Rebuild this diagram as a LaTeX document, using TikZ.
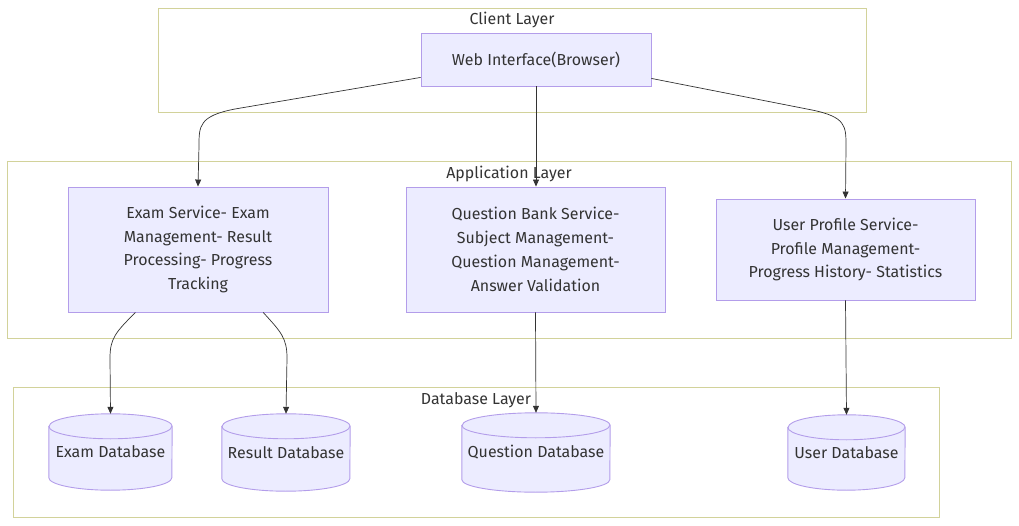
\documentclass[tikz,border=0pt]{standalone}
\usepackage{fontspec}
\setmainfont{Fira Sans}
\usetikzlibrary{arrows.meta,positioning,calc}
\definecolor{NodeFill}{HTML}{ECECFF}
\definecolor{NodeLine}{HTML}{B39DEA}
\definecolor{LayerLine}{HTML}{D2D29A}
\definecolor{EdgeInk}{HTML}{333333}
\pgfdeclarelayer{background}
\pgfsetlayers{background,main}

\begin{document}
\begin{tikzpicture}[x=1bp, y=-1bp,
  every node/.style={text=EdgeInk, font=\fontsize{16}{24}\selectfont},
  layer/.style={draw=LayerLine, line width=0.9bp, inner sep=0},
  layerlabel/.style={inner sep=2bp},
  service/.style={draw=NodeLine, fill=NodeFill, line width=0.9bp,
                  align=center, inner sep=0},
  database/.style={inner sep=0},
  dbshape/.style={draw=NodeLine, fill=NodeFill, line width=0.9bp},
  link/.style={-{Triangle[length=7bp,width=6bp]}, draw=EdgeInk, line width=0.7bp}
]
\useasboundingbox (0,0) rectangle (1019,526);
% layers
\node[layer, minimum width=708bp, minimum height=104bp] (client) at (512,60) {};
\node[layer, minimum width=1004bp, minimum height=177bp] (app) at (509,249.5) {};
\node[layer, minimum width=926bp, minimum height=130bp] (data) at (476,452) {};
\node[layerlabel, below=2.5bp of client.north] (clientlabel) {Client Layer};
\node[layerlabel, below=3.5bp of app.north] (applabel) {Application Layer};
\node[layerlabel, below=4bp of data.north] (datalabel) {Database Layer};
% services
\node[service, minimum width=230bp, minimum height=53bp] (web) at (536,59.5)
  {Web Interface(Browser)};
\node[service, minimum width=260bp, minimum height=125bp] (exam) at (198,249.5)
  {Exam Service- Exam\\Management- Result\\Processing- Progress\\Tracking};
\node[service, minimum width=259bp, minimum height=125bp] (question) at (535.5,249.5)
  {Question Bank Service-\\Subject Management-\\Question Management-\\Answer Validation};
\node[service, minimum width=259bp, minimum height=101bp] (user) at (845.5,249.5)
  {User Profile Service-\\Profile Management-\\Progress History- Statistics};
% databases
\node[database, minimum width=123bp, minimum height=76bp] (examdb) at (110.5,452) {Exam Database};
\node[database, minimum width=128bp, minimum height=77bp] (resultdb) at (286,452.5) {Result Database};
\node[database, minimum width=148bp, minimum height=79bp] (questiondb) at (536,452.5) {Question Database};
\node[database, minimum width=117bp, minimum height=75bp] (userdb) at (846.5,452.5) {User Database};
% cylinders behind the database labels
\begin{pgfonlayer}{background}
\foreach \db/\rx in {examdb/61.5, resultdb/64, questiondb/74, userdb/58.5}
{
  \draw[dbshape] ([yshift=-12.5bp]\db.north west) -- ([yshift=12.5bp]\db.south west)
    arc[start angle=180, end angle=360, x radius=\rx bp, y radius=12.5bp]
    -- ([yshift=-12.5bp]\db.north east)
    arc[start angle=0, end angle=180, x radius=\rx bp, y radius=12.5bp] -- cycle;
  \draw[dbshape, fill=none] ([yshift=-12.5bp]\db.north west)
    arc[start angle=180, end angle=360, x radius=\rx bp, y radius=12.5bp];
}
\end{pgfonlayer}
% links
\draw[link] ([yshift=9bp]web.south west) -- (235,109)
  .. controls (199,116) and (199,126) .. (199,146) -- (exam.north);
\draw[link] (web.south) -- (web.south |- question.north);
\draw[link] ([yshift=8bp]web.south east) -- (812,110)
  .. controls (846,117) and (846,126) .. (846,146) -- (user.north);
\draw[link] ($(exam.south west)!0.26!(exam.south east)$)
  .. controls (116,332) and (110,338) .. (110,358) -- (examdb.north);
\draw[link] ($(exam.south west)!0.75!(exam.south east)$)
  .. controls (281,332) and (287,338) .. (287,358) -- (resultdb.north);
\draw[link] (question.south) -- (questiondb.north);
\draw[link] (user.south) -- (userdb.north);
\end{tikzpicture}
\end{document}
